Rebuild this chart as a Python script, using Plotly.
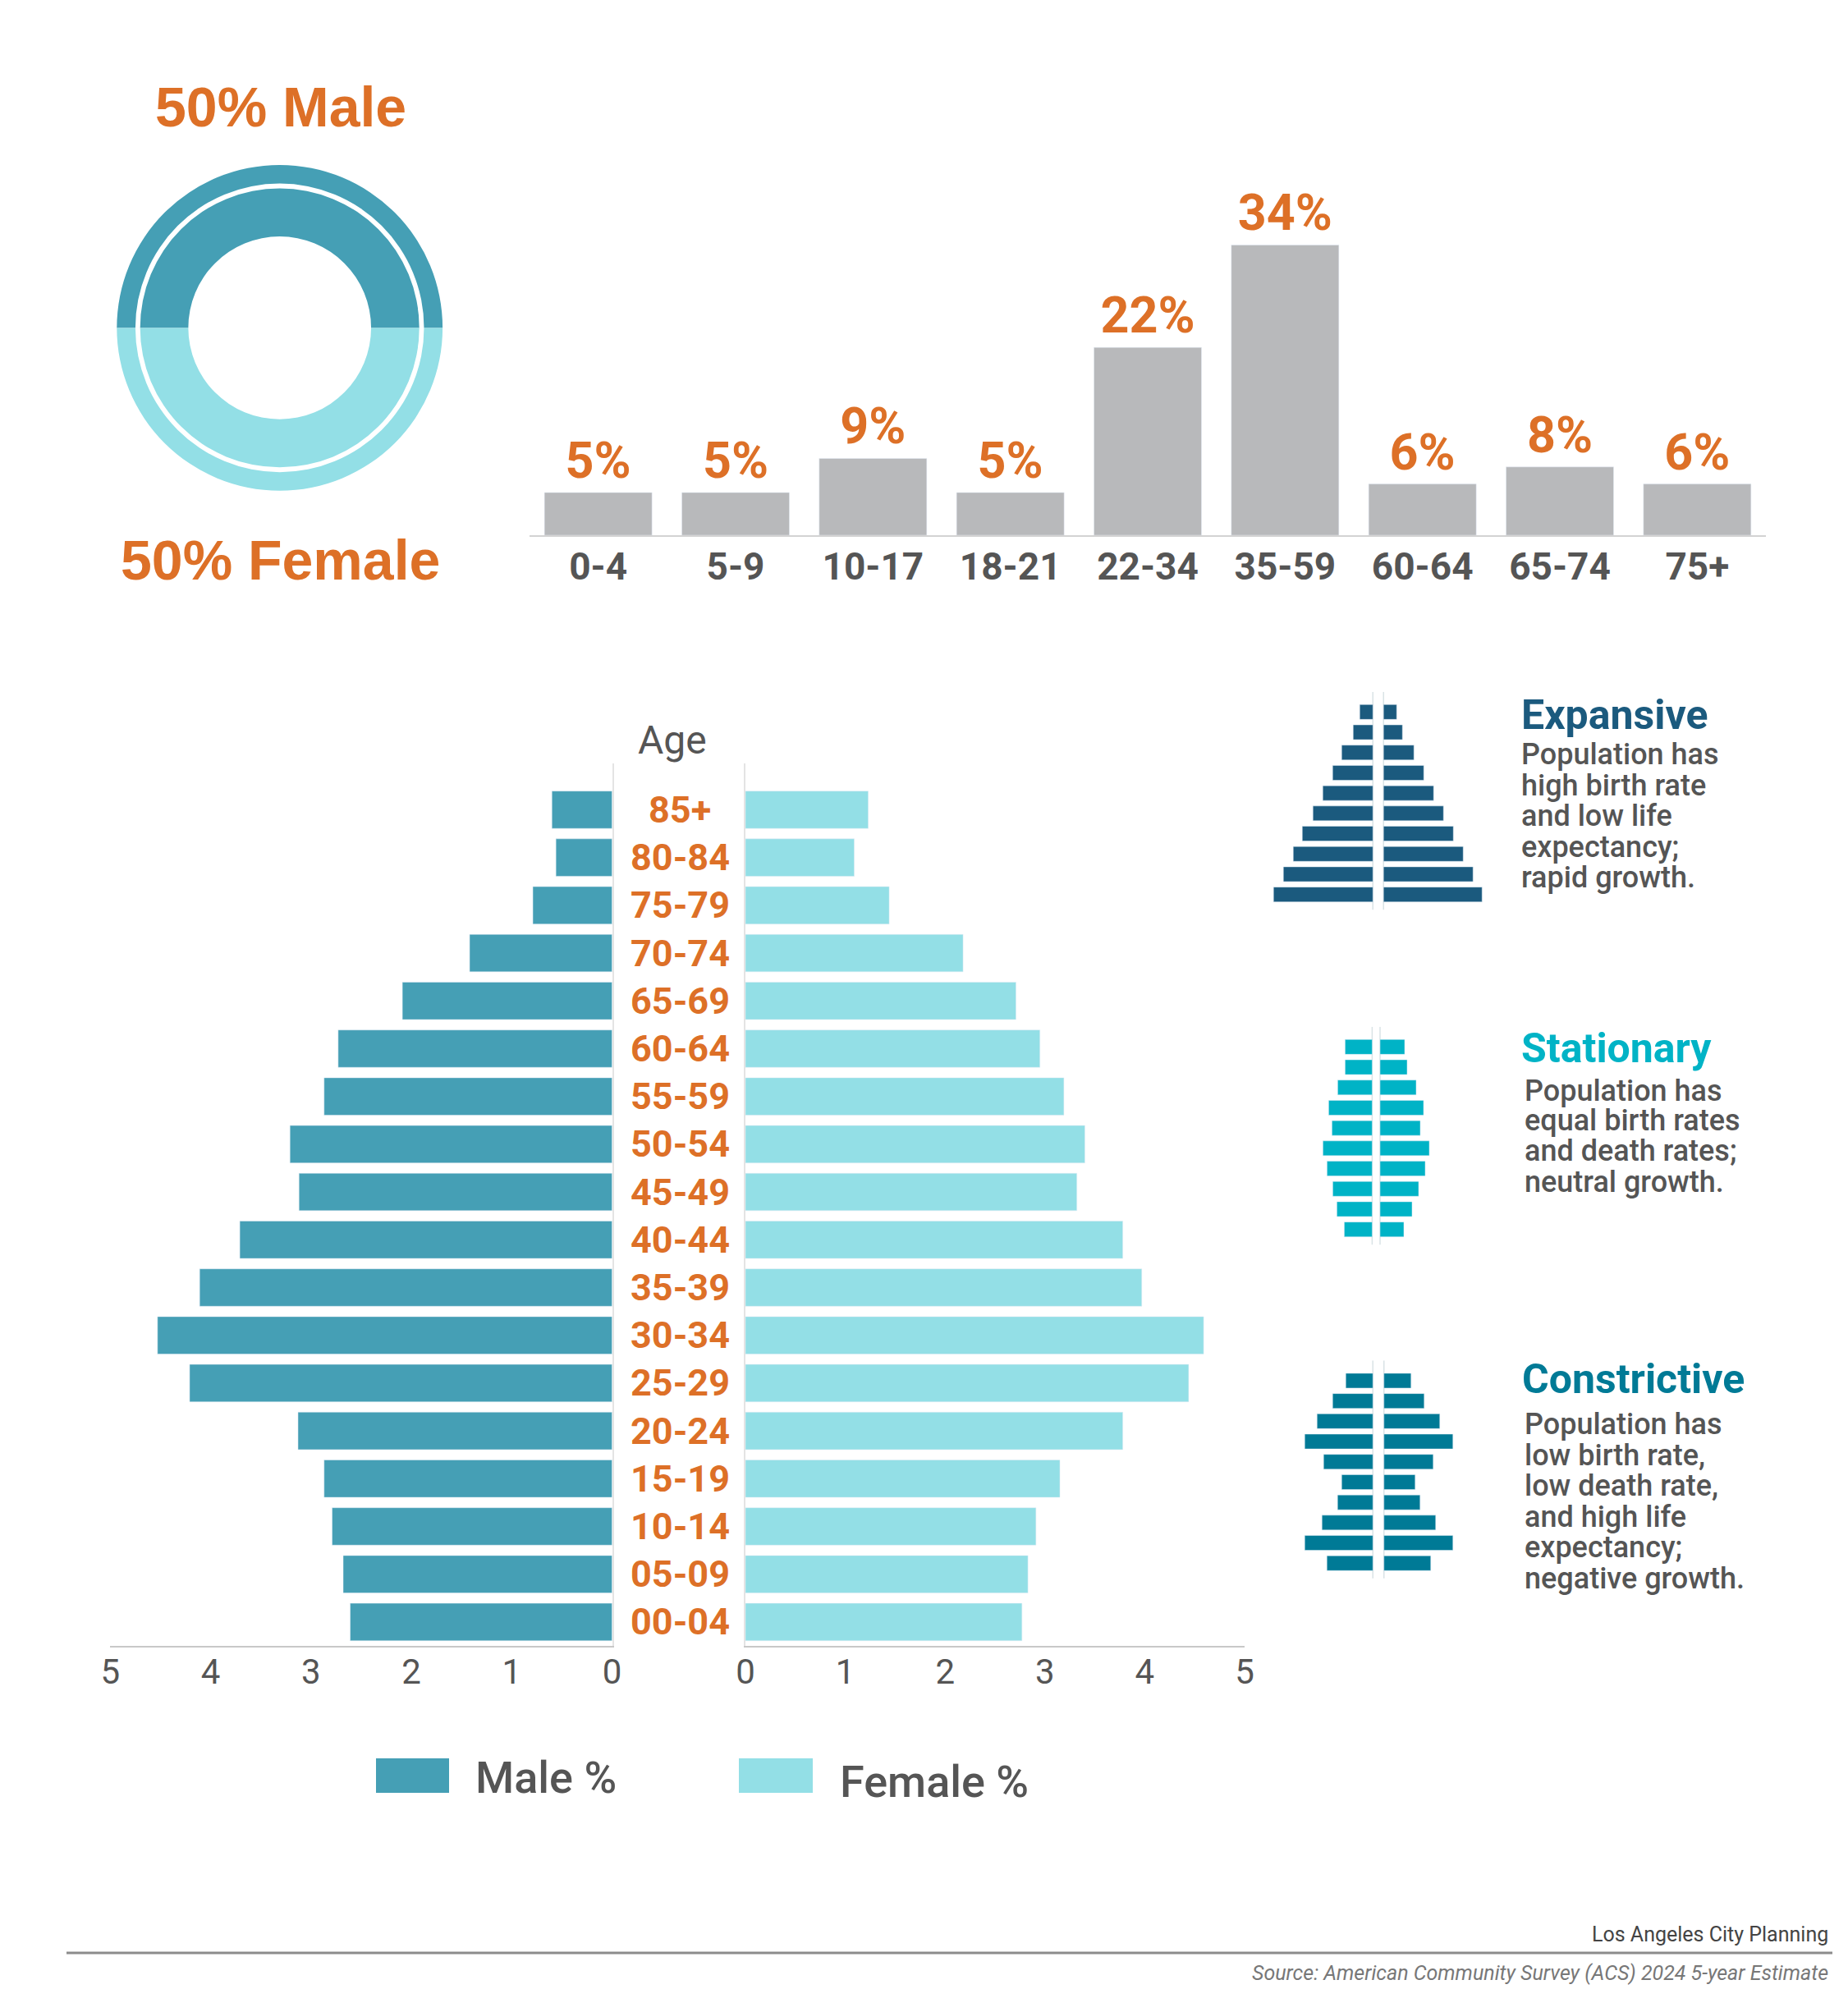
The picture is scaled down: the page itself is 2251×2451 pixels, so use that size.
import plotly.graph_objects as go

W, H = 2251, 2451
def fx(px): return px / W
def fy(py): return 1 - py / H

ORANGE = "#DD7027"
TXT = "#555555"
MALE_C = "#459FB5"
FEMALE_C = "#93DFE6"
BAR_GRAY = "#B8B9BB"
EXP_C = "#1B5A7E"
STA_C = "#00B3C6"
CON_C = "#007A96"

# ---------------- data ----------------
sex_labels = ["Male", "Female"]
sex_share = [50, 50]

age_groups = ["0-4", "5-9", "10-17", "18-21", "22-34", "35-59", "60-64", "65-74", "75+"]
age_share = [5, 5, 9, 5, 22, 34, 6, 8, 6]

pyr_ages = ["00-04", "05-09", "10-14", "15-19", "20-24", "25-29", "30-34", "35-39", "40-44",
            "45-49", "50-54", "55-59", "60-64", "65-69", "70-74", "75-79", "80-84", "85+"]
male_pct = [2.61, 2.68, 2.79, 2.87, 3.13, 4.21, 4.53, 4.11, 3.71, 3.12, 3.21, 2.87, 2.73, 2.09, 1.42, 0.79, 0.56, 0.60]
female_pct = [2.77, 2.83, 2.91, 3.15, 3.78, 4.44, 4.59, 3.97, 3.78, 3.32, 3.40, 3.19, 2.95, 2.71, 2.18, 1.44, 1.09, 1.23]

# illustrative pyramid icons (rows top to bottom, arbitrary width units)
icon_rows = list(range(10))
expansive_left = [16, 24, 38, 49, 61, 73, 86, 97, 109, 121]
expansive_right = [16, 23, 37, 49, 61, 73, 85, 97, 109, 120]
stationary_left = [33, 33, 42, 53, 49, 60, 55, 48, 43, 34]
stationary_right = [30, 33, 44, 53, 49, 60, 55, 47, 39, 29]
constrictive_left = [33, 49, 68, 83, 60, 38, 43, 62, 83, 56]
constrictive_right = [33, 49, 68, 84, 60, 38, 44, 63, 84, 57]

fig = go.Figure()

# ---------------- donut ----------------
cx, cy = 340.7, 399.4
for r_out, hole in [(198.4, 0.886), (170.0, 0.655)]:
    fig.add_trace(go.Pie(
        labels=sex_labels, values=sex_share, hole=hole, sort=False,
        direction="clockwise", rotation=-90,
        marker=dict(colors=[MALE_C, FEMALE_C], line=dict(width=0)),
        textinfo="none", hoverinfo="label+percent", showlegend=False,
        domain=dict(x=[fx(cx - r_out), fx(cx + r_out)], y=[fy(cy + r_out), fy(cy - r_out)]),
    ))

# ---------------- top bar chart ----------------
fig.add_trace(go.Bar(
    x=age_groups, y=age_share, marker_color=BAR_GRAY,
    text=[f"{v}%" for v in age_share], textposition="outside",
    textfont=dict(family="Roboto", size=61, color=ORANGE, weight="bold"),
    constraintext="none", cliponaxis=False, showlegend=False,
    xaxis="x", yaxis="y",
))

# ---------------- population pyramid ----------------
fig.add_trace(go.Bar(
    y=pyr_ages, x=male_pct, orientation="h", marker_color=MALE_C, name="Male %",
    showlegend=False, xaxis="x3", yaxis="y3",
))
fig.add_trace(go.Bar(
    y=pyr_ages, x=female_pct, orientation="h", marker_color=FEMALE_C, name="Female %",
    showlegend=False, xaxis="x4", yaxis="y4",
))

# ---------------- icons ----------------
icons = [
    ("x5", "y5", expansive_left, expansive_right, EXP_C, 1678.75, 13.0, 855.0),
    ("x6", "y6", stationary_left, stationary_right, STA_C, 1676.2, 9.6, 1263.0),
    ("x7", "y7", constrictive_left, constrictive_right, CON_C, 1679.0, 13.5, 1669.6),
]
for xa, ya, left, right, col, c, gap, top in icons:
    fig.add_trace(go.Bar(y=icon_rows, x=[-v for v in left], base=-gap / 2, orientation="h",
                         marker_color=col, showlegend=False, hoverinfo="skip", width=0.73,
                         xaxis=xa, yaxis=ya))
    fig.add_trace(go.Bar(y=icon_rows, x=right, base=gap / 2, orientation="h",
                         marker_color=col, showlegend=False, hoverinfo="skip", width=0.73,
                         xaxis=xa, yaxis=ya))

layout = dict(
    width=W, height=H, autosize=False,
    margin=dict(l=0, r=0, t=0, b=0, pad=0, autoexpand=False),
    paper_bgcolor="white", plot_bgcolor="white",
    bargap=0.217, barmode="overlay", showlegend=False,
    font=dict(family="Roboto", color=TXT),
)

# top bar axes
layout["xaxis"] = dict(domain=[fx(645), fx(2151)], anchor="y", showgrid=False, zeroline=False,
                       showline=True, linecolor="#d3d3d3", linewidth=2, ticks="", automargin=False,
                       tickfont=dict(family="Roboto", size=46, color=TXT, weight="bold"),
                       ticklabelstandoff=-3, fixedrange=True)
layout["yaxis"] = dict(domain=[fy(652), fy(236)], anchor="x", range=[0, 40], visible=False,
                       automargin=False)

# pyramid axes
py_dom = [fy(2005), fy(930)]
tickf = dict(family="Roboto", size=42, color=TXT)
layout["xaxis3"] = dict(domain=[fx(134.4), fx(745.6)], anchor="y3", range=[5, 0],
                        tickvals=[0, 1, 2, 3, 4, 5], showgrid=False, zeroline=False,
                        showline=True, linecolor="#c8c8c8", linewidth=2, ticks="", automargin=False,
                        tickfont=tickf, ticklabelstandoff=-6)
layout["yaxis3"] = dict(domain=py_dom, anchor="x3", type="category", range=[-0.5, 17.97],
                        showticklabels=False, showgrid=False, showline=True, side="right",
                        linecolor="#e4e4e4", linewidth=2, ticks="", automargin=False)
layout["xaxis4"] = dict(domain=[fx(908), fx(1516)], anchor="y4", range=[0, 5],
                        tickvals=[0, 1, 2, 3, 4, 5], showgrid=False, zeroline=False,
                        showline=True, linecolor="#c8c8c8", linewidth=2, ticks="", automargin=False,
                        tickfont=tickf, ticklabelstandoff=-6)
layout["yaxis4"] = dict(domain=py_dom, anchor="x4", type="category", range=[-0.5, 17.97],
                        showticklabels=False, showgrid=False, showline=True, side="left",
                        linecolor="#e4e4e4", linewidth=2, ticks="", automargin=False)

shapes = []
pitch = 24.7
for i, (xa, ya, left, right, col, c, gap, top) in enumerate(icons):
    n = xa[1:]
    layout["xaxis" + n] = dict(domain=[fx(c - 140), fx(c + 140)], anchor="y" + n, range=[-140, 140],
                               visible=False, fixedrange=True, automargin=False)
    layout["yaxis" + n] = dict(domain=[fy(top - 0.5 * pitch + 11 * pitch), fy(top - 0.5 * pitch)],
                               anchor="x" + n, range=[10.0, -1.0], visible=False, automargin=False)
    for sx in (-gap / 2, gap / 2):
        shapes.append(dict(type="line", xref=xa, yref=ya, x0=sx, x1=sx, y0=-1.0, y1=9.75,
                           line=dict(color="#d9e3e6", width=1.5), layer="below"))

# legend swatches
shapes.append(dict(type="rect", xref="paper", yref="paper", x0=fx(458), x1=fx(547),
                   y0=fy(2184), y1=fy(2142), fillcolor=MALE_C, line=dict(width=0)))
shapes.append(dict(type="rect", xref="paper", yref="paper", x0=fx(900), x1=fx(990),
                   y0=fy(2184), y1=fy(2142), fillcolor=FEMALE_C, line=dict(width=0)))
# footer rule
shapes.append(dict(type="line", xref="paper", yref="paper", x0=fx(81), x1=fx(2232),
                   y0=fy(2379), y1=fy(2379), line=dict(color="#8c8c8c", width=3)))
layout["shapes"] = shapes

ann = []
def A(text, x, y, size, color=TXT, family="Roboto", weight="normal", xanchor="center",
      style="normal", xref="paper", yref="paper", yv=None):
    ann.append(dict(text=text, x=x if xref != "paper" else fx(x),
                    y=yv if yv is not None else fy(y), xref=xref, yref=yref,
                    xanchor=xanchor, yanchor="middle", showarrow=False,
                    font=dict(family=family, size=size, color=color, weight=weight, style=style)))

A("50% Male", 341.5, 130, 68, ORANGE, "Liberation Sans", "bold")
A("50% Female", 341.5, 682, 68, ORANGE, "Liberation Sans", "bold")
A("Age", 819, 902, 48, TXT)
for a in pyr_ages:
    A(a, 828, None, 45, ORANGE, weight="bold", yref="y3", yv=a)

A("Male %", 577, 2165, 54, TXT, weight=500, xanchor="left")
A("Female %", 1021, 2170, 54, TXT, weight=500, xanchor="left")

# right panel texts
A("Expansive", 1851, 871, 50, EXP_C, weight="bold", xanchor="left")
for t, y in zip(["Population has", "high birth rate", "and low life", "expectancy;", "rapid growth."],
                [919, 957, 994, 1032, 1069]):
    A(t, 1851, y, 36, TXT, weight=500, xanchor="left")
A("Stationary", 1851, 1277, 50, STA_C, weight="bold", xanchor="left")
for t, y in zip(["Population has", "equal birth rates", "and death rates;", "neutral growth."],
                [1329, 1365, 1402, 1440]):
    A(t, 1855, y, 36, TXT, weight=500, xanchor="left")
A("Constrictive", 1852, 1680, 50, CON_C, weight="bold", xanchor="left")
for t, y in zip(["Population has", "low birth rate,", "low death rate,", "and high life",
                 "expectancy;", "negative growth."],
                [1735, 1773, 1810, 1848, 1885, 1923]):
    A(t, 1855, y, 36, TXT, weight=500, xanchor="left")

A("Los Angeles City Planning", 2229, 2356, 25, "#444444", xanchor="right")
A("Source: American Community Survey (ACS) 2024 5-year Estimate", 2229, 2403, 25, "#777777",
  xanchor="right", style="italic")
layout["annotations"] = ann

fig.update_layout(**layout)
fig.write_html("out.html")
